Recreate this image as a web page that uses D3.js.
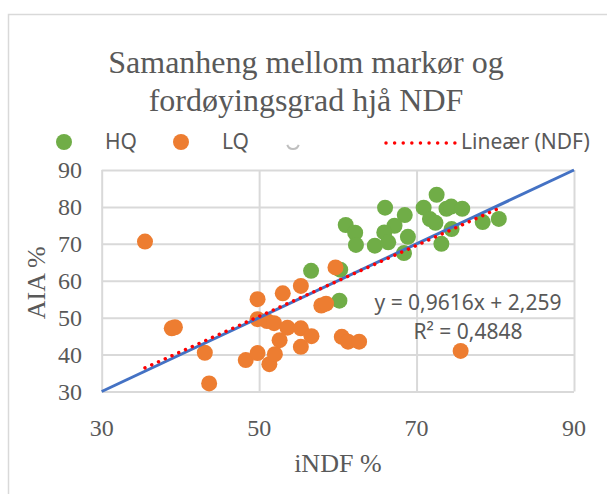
<!DOCTYPE html>
<html>
<head>
<meta charset="utf-8">
<script src="https://cdn.jsdelivr.net/npm/d3@7"></script>
<style>
  body { margin: 0; background: #fff; }
</style>
</head>
<body>
<script>
// Data
const hqX = [72.55, 66.0, 70.9, 73.8, 74.4, 75.8, 68.5, 67.2, 71.7, 72.4, 61.0, 62.2, 65.9,
             62.3, 64.7, 66.4, 68.9, 74.45, 78.4, 80.45, 73.15, 68.4, 60.3, 56.6, 60.2];
const hqY = [83.3, 79.8, 79.8, 79.5, 80.1, 79.5, 77.8, 74.9, 76.7, 75.7, 75.1, 73.0, 73.1,
             69.7, 69.5, 70.4, 71.9, 74.0, 75.9, 76.75, 70.0, 67.5, 63.0, 62.7, 54.6];
const lqX = [35.5, 38.9, 39.3, 43.1, 43.65, 48.3, 49.8, 49.8, 49.8, 51.0, 51.9, 51.3, 52.0, 52.6,
             53.0, 53.6, 55.3, 55.3, 55.3, 56.65, 57.9, 58.5, 59.7, 60.5, 61.3, 62.7, 75.6];
const lqY = [70.6, 47.1, 47.4, 40.5, 32.2, 38.5, 40.4, 55.0, 49.6, 49.1, 48.5, 37.4, 40.1, 43.9,
             56.6, 47.3, 58.6, 47.1, 42.1, 45.0, 53.3, 53.8, 63.6, 44.8, 43.5, 43.5, 41.0];
const slope = 0.9616;
const intercept = 2.259;
const rSquared = 0.4848;
const xTicks = [30, 50, 70, 90];
const yTicks = [30, 40, 50, 60, 70, 80, 90];
const oneToOne = [30, 90];

const width = 607, height = 494;
const plot = {left: 101.7, right: 574, top: 170, bottom: 391.5};
const grey = "#595959";
const green = "#70AD47", orange = "#ED7D31";

let svg = d3.select("body").append("svg")
    .attr("width", width)
    .attr("height", height)

// chart frame (runs off the right and bottom of the picture)
svg.append("rect")
    .attr("x", 8.5).attr("y", 14.5)
    .attr("width", 700).attr("height", 600)
    .attr("fill", "none")
    .attr("stroke", "#D9D9D9")
    .attr("stroke-width", 1.5)

let xScale = d3.scaleLinear().domain([30, 90]).range([plot.left, plot.right])
let yScale = d3.scaleLinear().domain([30, 90]).range([plot.bottom, plot.top])

// gridlines
svg.append("g")
    .attr("transform", `translate(0, ${plot.bottom})`)
    .call(d3.axisBottom(xScale).tickValues(xTicks).tickSize(-(plot.bottom - plot.top)).tickFormat(""))
    .call(g => g.select(".domain").remove())
    .call(g => g.selectAll("line").attr("stroke", "#D9D9D9").attr("stroke-width", 2))
svg.append("g")
    .attr("transform", `translate(${plot.left}, 0)`)
    .call(d3.axisLeft(yScale).tickValues(yTicks).tickSize(-(plot.right - plot.left)).tickFormat(""))
    .call(g => g.select(".domain").remove())
    .call(g => g.selectAll("line").attr("stroke", "#D9D9D9").attr("stroke-width", 2))

// tick labels
svg.selectAll(".xlabel")
    .data(xTicks).enter()
        .append("text")
    .attr("class", "xlabel")
    .attr("x", d => xScale(d))
    .attr("y", 436)
    .attr("text-anchor", "middle")
    .style("font-family", "'Liberation Serif', serif")
    .style("font-size", "24px")
    .attr("fill", grey)
    .text(d => d)
svg.selectAll(".ylabel")
    .data(yTicks).enter()
        .append("text")
    .attr("class", "ylabel")
    .attr("x", 82)
    .attr("y", d => yScale(d))
    .attr("dy", "0.35em")
    .attr("text-anchor", "end")
    .style("font-family", "'Liberation Serif', serif")
    .style("font-size", "24px")
    .attr("fill", grey)
    .text(d => d)

// axis titles
svg.append("text")
    .attr("x", (plot.left + plot.right) / 2)
    .attr("y", 472)
    .attr("text-anchor", "middle")
    .style("font-family", "'Liberation Serif', serif")
    .style("font-size", "26px")
    .attr("fill", grey)
    .text("iNDF %")
svg.append("text")
    .attr("transform", `translate(45, ${(plot.top + plot.bottom) / 2 + 2}) rotate(-90)`)
    .attr("text-anchor", "middle")
    .style("font-family", "'Liberation Serif', serif")
    .style("font-size", "26px")
    .attr("fill", grey)
    .text("AIA %")

// title
const titleLines = ["Samanheng mellom markør og", "fordøyingsgrad hjå NDF"];
svg.selectAll(".title")
    .data(titleLines).enter()
        .append("text")
    .attr("class", "title")
    .attr("x", 306)
    .attr("y", (d, i) => 73 + i * 38)
    .attr("text-anchor", "middle")
    .style("font-family", "'Liberation Serif', serif")
    .style("font-size", "32px")
    .attr("fill", grey)
    .text(d => d)

// points
let hq = hqX.map((x, i) => ({x: x, y: hqY[i]}));
let lq = lqX.map((x, i) => ({x: x, y: lqY[i]}));

svg.selectAll(".hq")
    .data(hq).enter()
        .append("circle")
    .attr("class", "hq")
    .attr("cx", d => xScale(d.x))
    .attr("cy", d => yScale(d.y))
    .attr("r", 8)
    .attr("fill", green)
svg.selectAll(".lq")
    .data(lq).enter()
        .append("circle")
    .attr("class", "lq")
    .attr("cx", d => xScale(d.x))
    .attr("cy", d => yScale(d.y))
    .attr("r", 8)
    .attr("fill", orange)

// 1:1 line
svg.append("line")
    .attr("x1", xScale(oneToOne[0])).attr("y1", yScale(oneToOne[0]))
    .attr("x2", xScale(oneToOne[1])).attr("y2", yScale(oneToOne[1]))
    .attr("stroke", "#4472C4")
    .attr("stroke-width", 3)

// linear trend over all points
let allX = hqX.concat(lqX);
let tx = d3.extent(allX);
svg.append("line")
    .attr("x1", xScale(tx[0])).attr("y1", yScale(slope * tx[0] + intercept))
    .attr("x2", xScale(tx[1])).attr("y2", yScale(slope * tx[1] + intercept))
    .attr("stroke", "#FF0000")
    .attr("stroke-width", 3.5)
    .attr("stroke-linecap", "round")
    .attr("stroke-dasharray", "0.01 7.4")

// equation
const eqLines = ["y = 0,9616x + 2,259", "R² = " + String(rSquared).replace(".", ",")];
svg.selectAll(".eq")
    .data(eqLines).enter()
        .append("text")
    .attr("class", "eq")
    .attr("x", 468)
    .attr("y", (d, i) => 310 + i * 29)
    .attr("text-anchor", "middle")
    .style("font-family", "'Noto Sans', sans-serif")
    .style("font-size", "21px")
    .attr("fill", grey)
    .text(d => d)

// legend
const legendY = 142;
let legend = svg.append("g")
    .style("font-family", "'Noto Sans', sans-serif")
    .style("font-size", "21px")
    .attr("fill", grey)
legend.append("circle").attr("cx", 64).attr("cy", legendY).attr("r", 8).attr("fill", green)
legend.append("text").attr("x", 105).attr("y", legendY).attr("dy", "0.35em").text("HQ")
legend.append("circle").attr("cx", 181).attr("cy", legendY).attr("r", 8).attr("fill", orange)
legend.append("text").attr("x", 222).attr("y", legendY).attr("dy", "0.35em").text("LQ")
legend.append("path")
    .attr("transform", `translate(293, ${legendY + 1})`)
    .attr("d", d3.arc()({innerRadius: 5, outerRadius: 7, startAngle: Math.PI * 0.6, endAngle: Math.PI * 1.4}))
    .attr("fill", "#BFBFBF")
legend.append("line")
    .attr("x1", 386).attr("x2", 455)
    .attr("y1", legendY + 1).attr("y2", legendY + 1)
    .attr("stroke", "#FF0000")
    .attr("stroke-width", 3.5)
    .attr("stroke-linecap", "round")
    .attr("stroke-dasharray", "0.01 8.6")
legend.append("text").attr("x", 461).attr("y", legendY).attr("dy", "0.35em").text("Lineær (NDF)")
</script>
</body>
</html>
